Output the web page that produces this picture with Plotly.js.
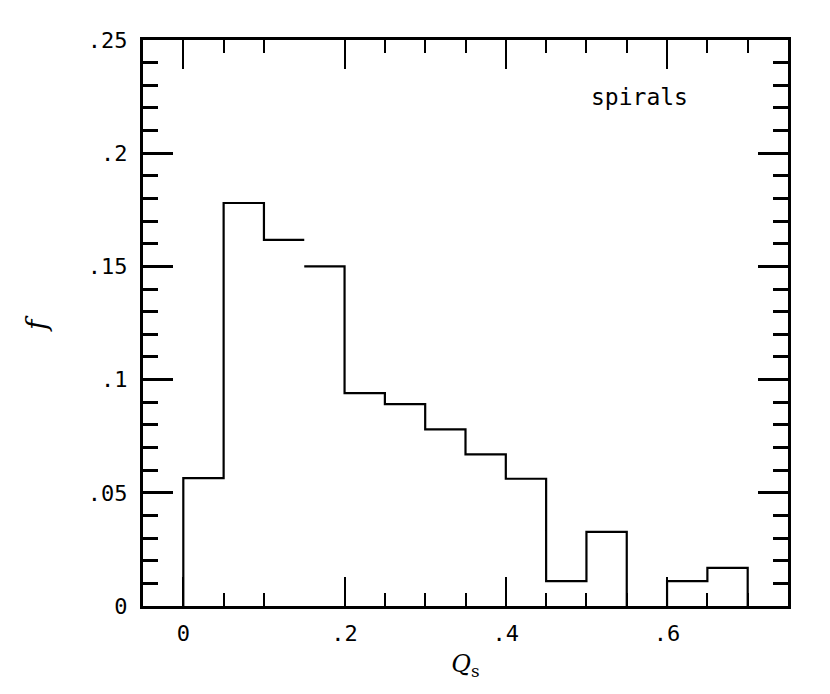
<!DOCTYPE html>
<html>
<head>
<meta charset="utf-8">
<script src="https://cdn.plot.ly/plotly-3.0.1.min.js"></script>
<style>
  body { margin: 0; background: #fff; }
  #chart { width: 830px; height: 694px; }
</style>
</head>
<body>
<div id="chart"></div>
<script>
// histogram of Q_s for spirals, bin width .05
let binLeft = [0, 0.05, 0.1, 0.15, 0.2, 0.25, 0.3, 0.35, 0.4, 0.45, 0.5, 0.55, 0.6, 0.65];
let freq = [0.0565, 0.178, 0.1617, 0.150, 0.094, 0.0892, 0.078, 0.067, 0.0562, 0.011, 0.0327, 0, 0.011, 0.0168];
let binWidth = 0.05;
let noRiser = [0.15]; // the original has no vertical step drawn here

let yTickVals = [0, 0.05, 0.1, 0.15, 0.2, 0.25];
let yTickText = ['0', '.05', '.1', '.15', '.2', '.25'];
let xTickVals = [0, 0.2, 0.4, 0.6];
let xTickText = ['0', '.2', '.4', '.6'];
let xMinorVals = [-0.05, 0.05, 0.1, 0.25, 0.3, 0.35, 0.45, 0.5, 0.55, 0.65, 0.7]; // .15 tick is absent in the original

// build the outline of the histogram as one stepped path
let xs = [];
let ys = [];
let prev = 0;
for (let i = 0; i < binLeft.length; i++) {
    let x0 = binLeft[i];
    let x1 = x0 + binWidth;
    let skip = noRiser.some(v => Math.abs(v - x0) < 1e-9);
    if (freq[i] == 0) { // empty bin: nothing drawn, only the riser down to zero
        if (prev > 0) { xs.push(x0); ys.push(prev); xs.push(x0); ys.push(0); }
        xs.push(null); ys.push(null);
        prev = 0;
        continue;
    }
    if (skip) {
        xs.push(null); ys.push(null); // break the line
    } else {
        xs.push(x0); ys.push(prev);
    }
    xs.push(x0); ys.push(freq[i]);
    xs.push(x1); ys.push(freq[i]);
    prev = freq[i];
}
xs.push(binLeft[binLeft.length - 1] + binWidth); ys.push(0);

let data = [{
    x: xs,
    y: ys,
    type: 'scatter',
    mode: 'lines',
    connectgaps: false,
    line: { color: '#000', width: 2.2, shape: 'linear' },
    hoverinfo: 'none'
}];

let tickFont = { family: 'DejaVu Sans Mono', size: 22, color: '#000' };

let layout = {
    width: 830,
    height: 694,
    margin: { l: 143, r: 42, t: 40, b: 88 },
    paper_bgcolor: '#fff',
    plot_bgcolor: '#fff',
    showlegend: false,
    xaxis: {
        range: [-0.05, 0.75],
        showgrid: false,
        zeroline: false,
        showline: true,
        linewidth: 3,
        linecolor: '#000',
        mirror: 'allticks',
        ticks: 'inside',
        ticklen: 29,
        tickwidth: 2,
        tickcolor: '#000',
        tickmode: 'array',
        tickvals: xTickVals,
        ticktext: xTickText,
        tickfont: tickFont,
        ticklabelstandoff: 6,
        minor: {
            tickmode: 'array',
            tickvals: xMinorVals,
            ticks: 'inside',
            ticklen: 13,
            tickwidth: 2,
            tickcolor: '#000',
            showgrid: false
        },
        title: {
            text: '<i>Q</i><sub>s</sub>',
            font: { family: 'DejaVu Serif', size: 24, color: '#000' },
            standoff: 10
        }
    },
    yaxis: {
        range: [0, 0.25],
        showgrid: false,
        zeroline: false,
        showline: true,
        linewidth: 3,
        linecolor: '#000',
        mirror: 'allticks',
        ticks: 'inside',
        ticklen: 30,
        tickwidth: 3,
        tickcolor: '#000',
        tickmode: 'array',
        tickvals: yTickVals,
        ticktext: yTickText,
        tickfont: tickFont,
        ticklabelstandoff: 8,
        minor: {
            dtick: 0.01,
            tick0: 0,
            ticks: 'inside',
            ticklen: 15,
            tickwidth: 3,
            tickcolor: '#000',
            showgrid: false
        }
    },
    annotations: [{
        // y axis title "f"
        xref: 'paper',
        yref: 'paper',
        x: -0.166,
        y: 0.5,
        xanchor: 'center',
        yanchor: 'middle',
        text: 'f',
        textangle: -90,
        showarrow: false,
        font: { family: 'DejaVu Serif', style: 'italic', size: 28, color: '#000' }
    }, {
        xref: 'paper',
        yref: 'paper',
        x: 0.769,
        y: 0.9,
        xanchor: 'center',
        yanchor: 'middle',
        text: 'spirals',
        showarrow: false,
        font: { family: 'DejaVu Sans Mono', size: 23, color: '#000' }
    }]
};

Plotly.newPlot('chart', data, layout, { staticPlot: true });
</script>
</body>
</html>
